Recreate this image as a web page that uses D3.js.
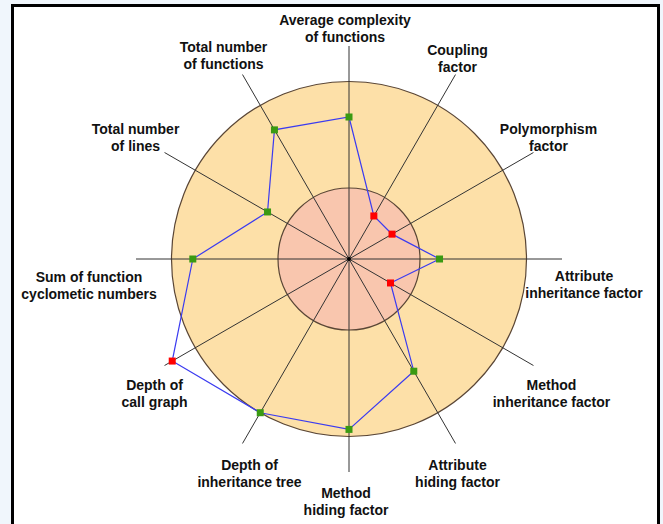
<!DOCTYPE html>
<html>
<head>
<meta charset="utf-8">
<script src="https://cdn.jsdelivr.net/npm/d3@7"></script>
<style>
  html, body { margin: 0; padding: 0; background: #f0f6fc; }
  svg { display: block; }
  text { font-family: "Liberation Sans", Arial, sans-serif; font-weight: bold; font-size: 14px; fill: #111; }
</style>
</head>
<body>
<script>
// metrics, clockwise from the top
var metrics = [
  ["Average complexity", "of functions"],
  ["Coupling", "factor"],
  ["Polymorphism", "factor"],
  ["Attribute", "inheritance factor"],
  ["Method", "inheritance factor"],
  ["Attribute", "hiding factor"],
  ["Method", "hiding factor"],
  ["Depth of", "inheritance tree"],
  ["Depth of", "call graph"],
  ["Sum of function", "cyclometic numbers"],
  ["Total number", "of lines"],
  ["Total number", "of functions"]
];

// measured values, in % of the upper limit
var values = [80, 28, 28, 51, 27, 73, 96, 100, 115, 88, 53, 84];

// allowed band
var lowerLimit = 40;
var upperLimit = 100;
var axisMax = 120;

// label offsets from the end of each axis (layout only)
var labelOffsets = [
  [-4, -21], [2, -20], [15, -19], [22, 22], [18, 24], [2, 27],
  [-3, 26], [7, 27], [-10, 24], [-47, 23], [-29, -19], [-19, -23]
];

var W = 663, H = 524;
var cx = 349, cy = 259;

var svg = d3.select("body").append("svg")
  .attr("width", W)
  .attr("height", H);

// white panel with black frame
svg.append("rect")
  .attr("x", 12.5)
  .attr("y", 5.5)
  .attr("width", 646)
  .attr("height", 540)
  .style("fill", "#fff")
  .style("stroke", "#000")
  .style("stroke-width", 3);

var r = d3.scaleLinear().domain([0, axisMax]).range([0, 213]);
var angle = d3.scaleLinear().domain([0, metrics.length]).range([0, 2 * Math.PI]);

var g = svg.append("g").attr("transform", "translate(" + cx + "," + cy + ")");

g.append("circle")
  .attr("r", r(upperLimit))
  .style("fill", "#fde0a8")
  .style("stroke", "#5a4636")
  .style("stroke-width", 1.2);

g.append("circle")
  .attr("r", r(lowerLimit))
  .style("fill", "#f9c6ae")
  .style("stroke", "#5a4636")
  .style("stroke-width", 1.2);

function px(i, v) { return r(v) * Math.sin(angle(i)); }
function py(i, v) { return -r(v) * Math.cos(angle(i)); }

g.selectAll(".axis")
  .data(metrics)
  .enter().append("line")
  .attr("class", "axis")
  .attr("x1", 0).attr("y1", 0)
  .attr("x2", function(d, i) { return px(i, axisMax); })
  .attr("y2", function(d, i) { return py(i, axisMax); })
  .style("stroke", "#333")
  .style("stroke-width", 1);

g.append("circle").attr("r", 2).style("fill", "#000");

var line = d3.line()
  .x(function(d, i) { return px(i, d); })
  .y(function(d, i) { return py(i, d); })
  .curve(d3.curveLinearClosed);

g.append("path")
  .datum(values)
  .attr("d", line)
  .style("fill", "none")
  .style("stroke", "#3b3bf0")
  .style("stroke-width", 1.2);

g.selectAll(".marker")
  .data(values)
  .enter().append("rect")
  .attr("class", "marker")
  .attr("x", function(d, i) { return px(i, d) - 3.5; })
  .attr("y", function(d, i) { return py(i, d) - 3.5; })
  .attr("width", 7)
  .attr("height", 7)
  .style("fill", function(d) {
    return (d < lowerLimit || d > upperLimit) ? "#ff0000" : "#3a9a12";
  });

var labels = g.selectAll(".label")
  .data(metrics)
  .enter().append("text")
  .attr("class", "label")
  .attr("text-anchor", "middle")
  .attr("transform", function(d, i) {
    var o = labelOffsets[i];
    return "translate(" + (px(i, axisMax) + o[0]) + "," + (py(i, axisMax) + o[1]) + ")";
  });

labels.selectAll("tspan")
  .data(function(d) { return d; })
  .enter().append("tspan")
  .attr("x", 0)
  .attr("y", function(d, j) { return j * 17; })
  .text(function(d) { return d; });
</script>
</body>
</html>
